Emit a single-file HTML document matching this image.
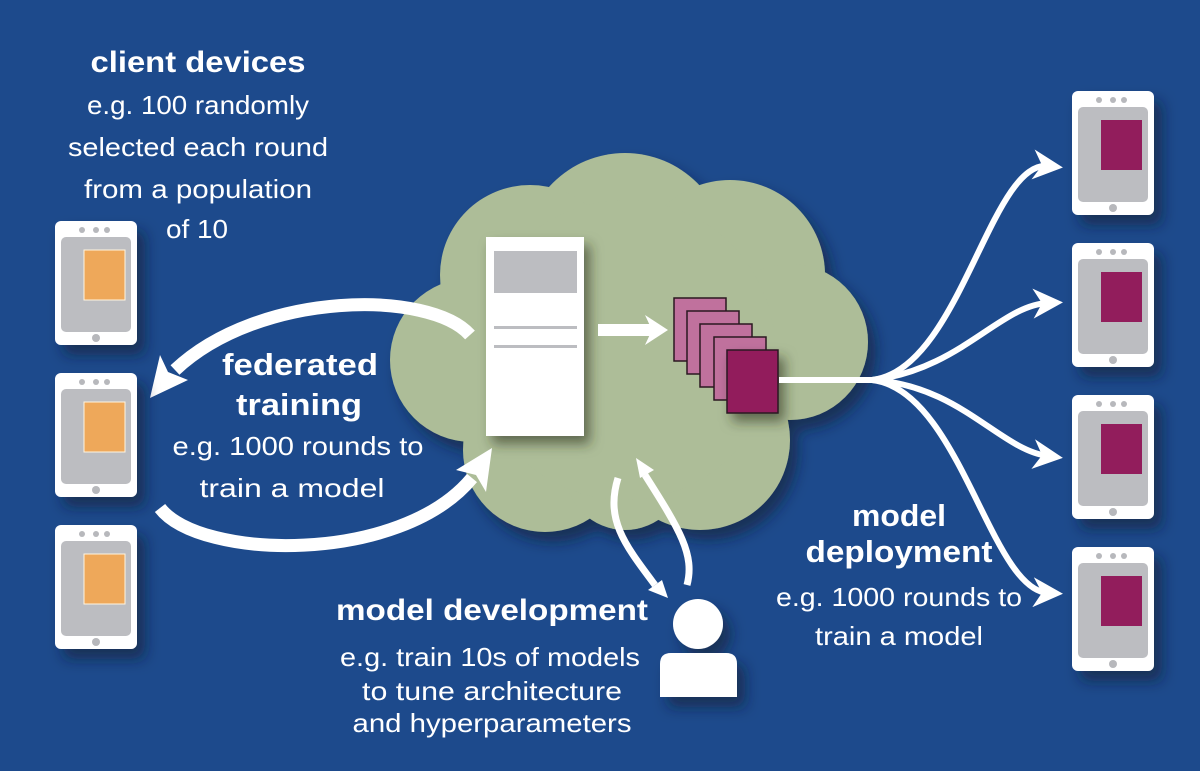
<!DOCTYPE html>
<html><head><meta charset="utf-8"><style>
html,body{margin:0;padding:0;background:#1d4a8c;}
svg{display:block}
text{font-family:"Liberation Sans",sans-serif;fill:#fff}
</style></head><body>
<svg width="1200" height="771" viewBox="0 0 1200 771" xmlns="http://www.w3.org/2000/svg">
<defs>
<filter id="sh" x="-30%" y="-30%" width="170%" height="170%"><feDropShadow dx="8" dy="10" stdDeviation="7" flood-color="#0a1a35" flood-opacity="0.6"/></filter>
<filter id="sh2" x="-30%" y="-30%" width="170%" height="170%"><feDropShadow dx="6" dy="8" stdDeviation="6" flood-color="#2a3320" flood-opacity="0.6"/></filter>
<g id="tab">
<rect x="0" y="0" width="82" height="124" rx="6" fill="#fff"/>
<circle cx="27" cy="9" r="3" fill="#b7b8bc"/><circle cx="41" cy="9" r="3" fill="#b7b8bc"/><circle cx="52" cy="9" r="3" fill="#b7b8bc"/>
<rect x="6" y="16" width="70" height="95" rx="5" fill="#bcbdc1"/>
<circle cx="41" cy="117" r="4" fill="#b7b8bc"/>
</g>
<marker id="ah2" viewBox="0 0 10 10" refX="5" refY="5" markerWidth="5" markerHeight="5" orient="auto"><path d="M0,0 L10,5 L0,10 L3,5z" fill="#fff"/></marker>
</defs>

<g fill="#adbd98" filter="url(#sh)">
<circle cx="625" cy="255" r="102"/>
<circle cx="530" cy="275" r="90"/>
<circle cx="730" cy="275" r="95"/>
<circle cx="472" cy="360" r="82"/>
<circle cx="790" cy="342" r="78"/>
<circle cx="545" cy="450" r="82"/>
<circle cx="700" cy="440" r="90"/>
<circle cx="625" cy="470" r="60"/>
<circle cx="625" cy="350" r="150"/>
</g>

<g filter="url(#sh2)"><rect x="486" y="237" width="98" height="199" fill="#fff"/></g>
<rect x="494" y="251" width="83" height="42" fill="#bcbdc1"/>
<rect x="494" y="326" width="83" height="3" fill="#bcbdc1"/>
<rect x="494" y="345" width="83" height="3" fill="#bcbdc1"/>

<path d="M598,330 L652,330" stroke="#fff" stroke-width="12" fill="none"/>
<path d="M645,315 L668,330 L645,345 L652,330z" fill="#fff"/>

<g stroke="#2b1820" stroke-width="1.5">
<rect x="674" y="298" width="52" height="63" fill="#c0719d"/>
<rect x="687" y="311" width="52" height="63" fill="#c0719d"/>
<rect x="700" y="324" width="52" height="63" fill="#c0719d"/>
<rect x="714" y="337" width="52" height="63" fill="#c0719d"/>
<rect x="727" y="350" width="51" height="63" fill="#921d5c" filter="url(#sh2)"/>
</g>

<g stroke="#fff" stroke-width="6" fill="none" marker-end="url(#ah2)">
<path d="M779,380 L872,380 C960,370 990,160 1048,166"/>
<path d="M779,380 L872,380 C960,370 1000,305 1048,303"/>
<path d="M872,380 C960,385 1000,450 1048,456"/>
<path d="M872,380 C960,390 990,590 1048,593"/>
</g>

<g stroke="#fff" stroke-width="13" fill="none">
<path d="M470,335 C430,290 260,290 175,370"/>
<path d="M160,508 C200,560 400,565 472,478"/>
</g>
<path d="M150,398 L160,355 L168,372 L188,380z" fill="#fff"/>
<path d="M492,448 L486,492 L476,475 L456,470z" fill="#fff"/>

<g stroke="#fff" stroke-width="7" fill="none">
<path d="M618,478 C605,520 625,545 655,585"/>
<path d="M687,585 C695,555 680,530 645,475"/>
</g>
<path d="M668,598 L648,590 L662,580z" fill="#fff"/>
<path d="M636,458 L654,470 L640,478z" fill="#fff"/>

<g fill="#fff" filter="url(#sh)">
<circle cx="698" cy="624" r="25"/>
<path d="M660,697 L660,664 Q660,653 671,653 L726,653 Q737,653 737,664 L737,697z"/>
</g>

<g filter="url(#sh)">
<use href="#tab" x="55" y="221"/><use href="#tab" x="55" y="373"/><use href="#tab" x="55" y="525"/>
</g>
<g fill="#eea85a" stroke="#fff5e0" stroke-width="1">
<rect x="84" y="250" width="41" height="50"/>
<rect x="84" y="402" width="41" height="50"/>
<rect x="84" y="554" width="41" height="50"/>
</g>

<g filter="url(#sh)">
<use href="#tab" x="1072" y="91"/><use href="#tab" x="1072" y="243"/><use href="#tab" x="1072" y="395"/><use href="#tab" x="1072" y="547"/>
</g>
<g fill="#921d5c">
<rect x="1101" y="120" width="41" height="50"/>
<rect x="1101" y="272" width="41" height="50"/>
<rect x="1101" y="424" width="41" height="50"/>
<rect x="1101" y="576" width="41" height="50"/>
</g>

<g text-anchor="middle" lengthAdjust="spacingAndGlyphs">
<text x="198" y="72" font-size="30" font-weight="bold" textLength="215" lengthAdjust="spacingAndGlyphs">client devices</text>
<text x="198" y="114" font-size="26" textLength="222" lengthAdjust="spacingAndGlyphs">e.g. 100 randomly</text>
<text x="198" y="156" font-size="26" textLength="260" lengthAdjust="spacingAndGlyphs">selected each round</text>
<text x="198" y="198" font-size="26" textLength="228" lengthAdjust="spacingAndGlyphs">from a population</text>
<text x="197" y="238" font-size="26" textLength="62" lengthAdjust="spacingAndGlyphs">of 10</text>

<text x="300" y="375" font-size="31" font-weight="bold" textLength="156" lengthAdjust="spacingAndGlyphs">federated</text>
<text x="299" y="415" font-size="31" font-weight="bold" textLength="126" lengthAdjust="spacingAndGlyphs">training</text>
<text x="298" y="455" font-size="26" textLength="251" lengthAdjust="spacingAndGlyphs">e.g. 1000 rounds to</text>
<text x="292" y="497" font-size="26" textLength="185" lengthAdjust="spacingAndGlyphs">train a model</text>

<text x="492" y="620" font-size="30" font-weight="bold" textLength="312" lengthAdjust="spacingAndGlyphs">model development</text>
<text x="490" y="666" font-size="26" textLength="300" lengthAdjust="spacingAndGlyphs">e.g. train 10s of models</text>
<text x="492" y="700" font-size="26" textLength="260" lengthAdjust="spacingAndGlyphs">to tune architecture</text>
<text x="492" y="732" font-size="26" textLength="279" lengthAdjust="spacingAndGlyphs">and hyperparameters</text>

<text x="899" y="526" font-size="31" font-weight="bold" textLength="94" lengthAdjust="spacingAndGlyphs">model</text>
<text x="899" y="562" font-size="31" font-weight="bold" textLength="187" lengthAdjust="spacingAndGlyphs">deployment</text>
<text x="899" y="606" font-size="26" textLength="246" lengthAdjust="spacingAndGlyphs">e.g. 1000 rounds to</text>
<text x="899" y="645" font-size="26" textLength="168" lengthAdjust="spacingAndGlyphs">train a model</text>
</g>
</svg>
</body></html>
